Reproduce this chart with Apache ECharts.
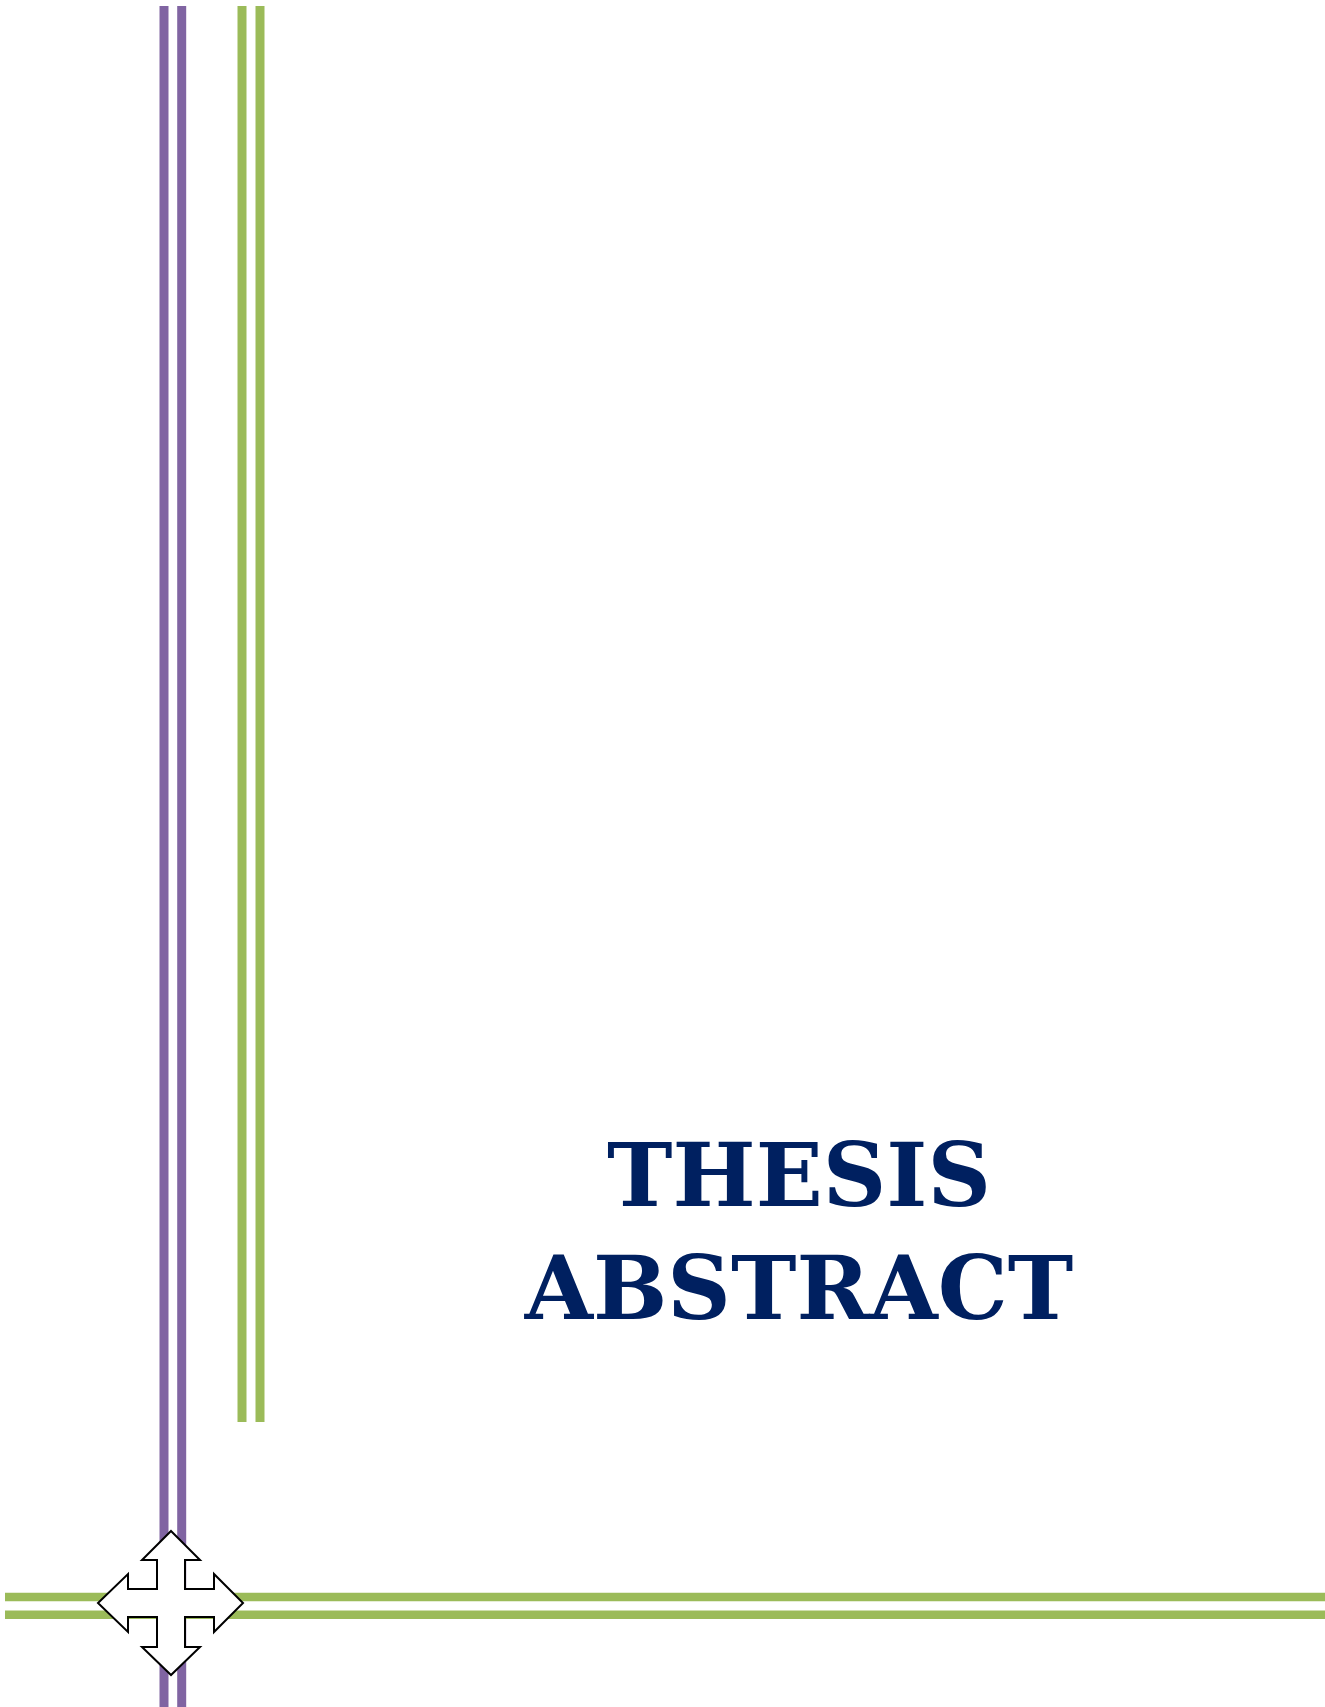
<!DOCTYPE html>
<html>
<head>
<meta charset="utf-8">
<script src="https://cdn.jsdelivr.net/npm/echarts@6/dist/echarts.min.js"></script>
<style>
html,body{margin:0;padding:0;background:#fff;}
#chart{width:1325px;height:1707px;}
</style>
</head>
<body>
<div id="chart"></div>
<script>
// Page extent in data units (one unit per pixel of the page)
var pageWidth = 1325;
var pageHeight = 1707;

// Decorative rules: [x or y position, start, end]
var purpleVerticals = [[164, 6, 1707], [181.7, 6, 1707]];
var greenVerticals = [[242, 6, 1422], [260, 6, 1422]];
var greenHorizontals = [[1597, 5, 1325], [1614.7, 5, 1325]];

// Four-way arrow outline (data units)
var arrowOutline = [
  [171, 1531], [200, 1560], [185, 1560], [185, 1589], [214, 1589], [214, 1574], [243, 1603],
  [214, 1632], [214, 1617], [185, 1617], [185, 1647], [200, 1647], [171, 1675],
  [142, 1647], [157, 1647], [157, 1617], [128, 1617], [128, 1632], [98, 1603],
  [128, 1574], [128, 1589], [157, 1589], [157, 1560], [142, 1560]
];

// Title lines: [text, x centre, baseline y]
var titleLines = [['THESIS', 799, 1205], ['ABSTRACT', 799, 1318]];

var purple = '#8064A2';
var green = '#9BBB59';
var navy = '#002060';

function lineSeries(list, vertical, color, width) {
  return list.map(function (d) {
    return {
      type: 'line', silent: true, symbol: 'none', z: 1, animation: false,
      data: vertical ? [[d[0], d[1]], [d[0], d[2]]] : [[d[1], d[0]], [d[2], d[0]]],
      lineStyle: { color: color, width: width, cap: 'butt' }
    };
  });
}

var series = []
  .concat(lineSeries(purpleVerticals, true, purple, 9))
  .concat(lineSeries(greenVerticals, true, green, 9))
  .concat(lineSeries(greenHorizontals, false, green, 8.5));

series.push({
  type: 'custom', silent: true, z: 5, animation: false,
  data: [0],
  renderItem: function (params, api) {
    var pts = arrowOutline.map(function (p) { return api.coord(p); });
    return {
      type: 'polygon',
      shape: { points: pts },
      style: { fill: '#ffffff', stroke: '#000000', lineWidth: 2, lineJoin: 'miter' }
    };
  }
});

var titleFontSize = 88;
series.push({
  type: 'custom', silent: true, z: 6, animation: false,
  data: titleLines.map(function (t) { return [t[1], t[2]]; }),
  renderItem: function (params, api) {
    var p = api.coord([api.value(0), api.value(1)]);
    return {
      type: 'text',
      style: {
        text: titleLines[params.dataIndex][0],
        x: p[0], y: p[1] + titleFontSize * 0.253,
        fill: navy,
        font: 'bold ' + titleFontSize + 'px "DejaVu Serif"',
        align: 'center',
        verticalAlign: 'bottom'
      }
    };
  }
});

var chart = echarts.init(document.getElementById('chart'), null, { renderer: 'canvas' });
chart.setOption({
  animation: false,
  backgroundColor: '#ffffff',
  grid: { left: 0, right: 0, top: 0, bottom: 0 },
  xAxis: { type: 'value', min: 0, max: pageWidth, show: false },
  yAxis: { type: 'value', min: 0, max: pageHeight, inverse: true, show: false },
  series: series
});
</script>
</body>
</html>
